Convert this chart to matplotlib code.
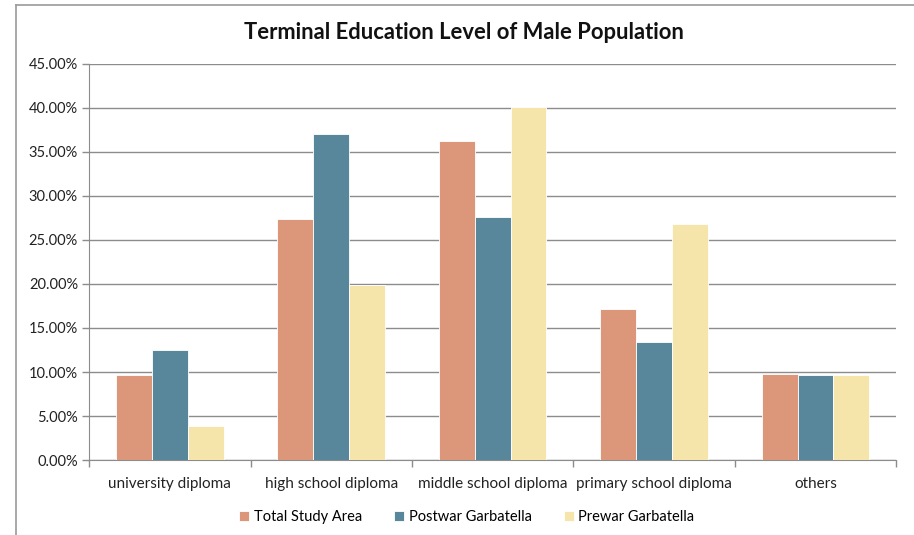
import numpy as np
import matplotlib
matplotlib.use("Agg")
import matplotlib.pyplot as plt
from matplotlib.lines import Line2D
from matplotlib.ticker import FuncFormatter, MultipleLocator

# Terminal education level, share of male population per area
categories = ["university diploma", "high school diploma", "middle school diploma",
              "primary school diploma", "others"]
total_study_area = [9.67, 27.36, 36.17, 17.2, 9.83]
postwar_garbatella = [12.55, 36.96, 27.55, 13.4, 9.67]
prewar_garbatella = [3.82, 19.84, 40.1, 26.8, 9.65]

series_names = ["Total Study Area", "Postwar Garbatella", "Prewar Garbatella"]
series_colors = ["#DC967A", "#58879B", "#F5E5AB"]

plt.rcParams["font.family"] = ["Lato", "DejaVu Sans"]

fig = plt.figure(figsize=(9.14, 5.35), dpi=100)
ax = fig.add_axes([0.0975, 0.140, 0.883, 0.741])

x = np.arange(len(categories))
width = 0.222
for i, (vals, name, color) in enumerate(zip(
        [total_study_area, postwar_garbatella, prewar_garbatella], series_names, series_colors)):
    ax.bar(x + (i - 1) * width, vals, width, color=color, label=name,
           edgecolor="#ffffff", linewidth=0.6, zorder=3)

ax.set_xlim(-0.5, len(categories) - 0.5)
ax.set_ylim(0, 45)
ax.yaxis.set_major_locator(MultipleLocator(5))
ax.yaxis.set_major_formatter(FuncFormatter(lambda v, _: f"{v:.2f}%"))
ax.grid(axis="y", color="#8c8c8c", linewidth=1.0, zorder=0)

# category labels centred, ticks on category boundaries
ax.set_xticks(x)
ax.set_xticklabels(categories, fontsize=11, color="#222222")
ax.tick_params(axis="x", length=0, pad=12)
ax.set_xticks(np.arange(len(categories) + 1) - 0.5, minor=True)
ax.tick_params(axis="x", which="minor", length=5, color="#8c8c8c", width=1.0)
ax.tick_params(axis="y", length=5, color="#8c8c8c", width=1.0, labelsize=10.5,
               labelcolor="#222222", pad=3)

for side in ["top", "right"]:
    ax.spines[side].set_visible(False)
ax.spines["left"].set_color("#8c8c8c")
ax.spines["bottom"].set_color("#8c8c8c")

fig.text(0.508, 0.94, "Terminal Education Level of Male Population",
         ha="center", va="center", fontsize=15.8, fontweight="bold", color="#111111")

ax.legend(loc="center", bbox_to_anchor=(0.468, -0.144), ncol=3, frameon=False,
          fontsize=10.5, handlelength=0.7, handleheight=0.7, handletextpad=0.3,
          columnspacing=2.2)

# chart area border
fig.add_artist(Line2D([16 / 914, 16 / 914], [0, 1 - 4.5 / 535], color="#9a9a9a", lw=1.2))
fig.add_artist(Line2D([16 / 914, 1], [1 - 4.5 / 535, 1 - 4.5 / 535], color="#9a9a9a", lw=1.2))

fig.savefig("out.png", dpi=100)
